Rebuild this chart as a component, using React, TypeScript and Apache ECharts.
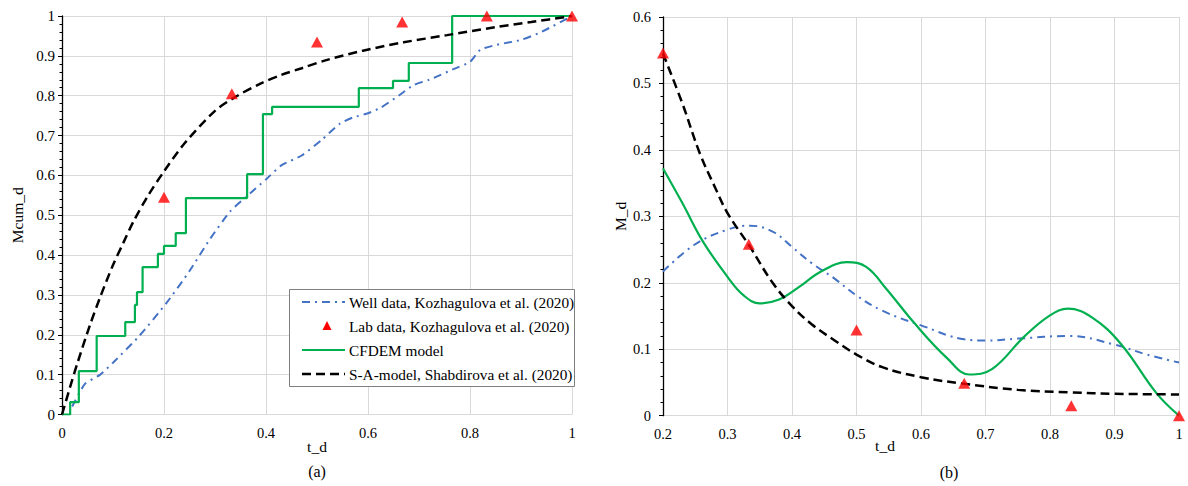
import React, { useEffect, useRef } from "react";
import * as echarts from "echarts";

// ---------- Data (a): cumulative ----------
const wellCum: number[][] = [
  [0.02, 0.02], [0.045, 0.077], [0.075, 0.1], [0.1, 0.13], [0.15, 0.195], [0.205, 0.28],
  [0.25, 0.36], [0.29, 0.44], [0.33, 0.51], [0.36, 0.545], [0.4, 0.59], [0.43, 0.625],
  [0.47, 0.65], [0.51, 0.69], [0.545, 0.73], [0.57, 0.745], [0.6, 0.756], [0.625, 0.77],
  [0.66, 0.8], [0.69, 0.827], [0.72, 0.84], [0.77, 0.868], [0.8, 0.885], [0.82, 0.915],
  [0.85, 0.927], [0.9, 0.94], [0.94, 0.96], [1, 1],
];
const labCum: number[][] = [
  [0.2, 0.545], [0.333, 0.805], [0.5, 0.935], [0.667, 0.985], [0.833, 1.0], [1, 1.0],
];
const cfdemCum: number[][] = [
  [0, 0], [0.016, 0.031], [0.033, 0.109], [0.068, 0.197], [0.124, 0.232], [0.143, 0.275],
  [0.147, 0.307], [0.158, 0.37], [0.188, 0.403], [0.2, 0.423], [0.223, 0.455], [0.243, 0.543],
  [0.363, 0.603], [0.394, 0.754], [0.412, 0.772], [0.582, 0.819], [0.649, 0.837], [0.68, 0.882],
  [0.765, 1.0], [1, 1],
];
const saCum: number[][] = [
  [0, 0], [0.015, 0.065], [0.03, 0.128], [0.055, 0.225], [0.075, 0.295], [0.1, 0.375],
  [0.12, 0.43], [0.14, 0.484], [0.17, 0.552], [0.2, 0.61], [0.24, 0.68], [0.3, 0.762],
  [0.34, 0.797], [0.39, 0.831], [0.43, 0.852], [0.47, 0.869], [0.52, 0.89], [0.59, 0.913],
  [0.67, 0.934], [0.755, 0.952], [0.85, 0.972], [0.92, 0.985], [1, 1],
];

// ---------- Data (b): M_d ----------
const wellMd: number[][] = [
  [0.2, 0.217], [0.25, 0.258], [0.3, 0.28], [0.335, 0.286], [0.37, 0.277], [0.4, 0.254],
  [0.43, 0.23], [0.465, 0.207], [0.5, 0.181], [0.54, 0.158], [0.6, 0.136], [0.667, 0.115],
  [0.7, 0.113], [0.75, 0.116], [0.83, 0.12], [0.9, 0.107], [0.95, 0.092], [1, 0.08],
];
const labMd: number[][] = [
  [0.2, 0.546], [0.333, 0.258], [0.5, 0.129], [0.667, 0.049], [0.833, 0.015], [1, 0.0],
];
const cfdemMd: number[][] = [
  [0.2, 0.372], [0.23, 0.32], [0.262, 0.262], [0.3, 0.209], [0.325, 0.181], [0.35, 0.169],
  [0.38, 0.175], [0.41, 0.193], [0.445, 0.217], [0.485, 0.231], [0.515, 0.224], [0.547, 0.19],
  [0.59, 0.139], [0.64, 0.087], [0.675, 0.062], [0.71, 0.07], [0.76, 0.119], [0.8, 0.151],
  [0.828, 0.161], [0.865, 0.148], [0.91, 0.108], [0.965, 0.034], [1, 0],
];
const saMd: number[][] = [
  [0.2, 0.545], [0.23, 0.47], [0.257, 0.395], [0.28, 0.345], [0.3, 0.305], [0.335, 0.254],
  [0.37, 0.2], [0.4, 0.165], [0.43, 0.138], [0.465, 0.114], [0.5, 0.092], [0.54, 0.073],
  [0.6, 0.058], [0.667, 0.048], [0.75, 0.039], [0.833, 0.035], [0.9, 0.033], [1, 0.032],
];

const names = [
  "Well data, Kozhagulova et al. (2020)",
  "Lab data, Kozhagulova et al. (2020)",
  "CFDEM model",
  "S-A-model, Shabdirova et al. (2020)",
];

const FONT = "Liberation Serif";
const BLUE = "#4472C4";
const GREEN = "#00B050";
const RED = "#FF0000";
const GRID = "#d9d9d9";
const WELL_DASH = [8, 5, 2, 5];
const SA_DASH = [9, 5];

export default function App() {
  const ref = useRef<HTMLDivElement>(null);
  useEffect(() => {
    if (!ref.current) return;
    const chart = echarts.init(ref.current, undefined, { renderer: "svg" });
    const lbl = { color: "#000", fontFamily: FONT, fontSize: 14.5 };
    const mkX = (gi: number, min: number, interval: number) => ({
      type: "value",
      gridIndex: gi,
      min,
      max: 1,
      interval,
      axisLine: { show: false },
      axisTick: { show: false },
      axisLabel: { ...lbl, margin: 11 },
      splitLine: { show: true, lineStyle: { color: GRID, width: 1 } },
    });
    const mkY = (gi: number, max: number, name: string, gap: number, lm: number, fs: number) => ({
      type: "value",
      gridIndex: gi,
      min: 0,
      max,
      interval: 0.1,
      name,
      nameLocation: "middle",
      nameGap: gap,
      nameRotate: 90,
      nameTextStyle: { color: "#000", fontFamily: FONT, fontSize: 15.5 },
      axisLine: { show: true, lineStyle: { color: "#000", width: 1.3 } },
      axisTick: { show: true, length: 4, lineStyle: { color: "#000" } },
      minorTick: { show: true, splitNumber: 5, length: 2.5, lineStyle: { color: "#000" } },
      axisLabel: { ...lbl, fontSize: fs, margin: lm },
      splitLine: { show: true, lineStyle: { color: GRID, width: 1 } },
    });
    const wellStyle = { color: BLUE, width: 2, type: WELL_DASH };
    const saStyle = { color: "#000", width: 2.5, type: SA_DASH };
    const greenStyle = { color: GREEN, width: 2.2 };
    const line = (name: string, gi: number, data: number[][], ls: any, extra: any = {}) => ({
      type: "line",
      name,
      xAxisIndex: gi,
      yAxisIndex: gi,
      data,
      symbol: "none",
      showSymbol: false,
      lineStyle: ls,
      itemStyle: { color: ls.color },
      z: 3,
      ...extra,
    });
    const scat = (gi: number, data: number[][]) => ({
      type: "scatter",
      name: names[1],
      xAxisIndex: gi,
      yAxisIndex: gi,
      data,
      symbol: "triangle",
      symbolSize: [12, 11],
      itemStyle: { color: RED },
      z: 6,
    });
    const txt = (text: string, x: number, y: number, size: number, align = "center") => ({
      type: "text",
      x,
      y,
      z: 20,
      style: {
        text,
        fill: "#000",
        fontFamily: FONT,
        fontSize: size,
        align,
        verticalAlign: "middle",
      },
    });
    // legend box (drawn with graphic)
    const L = { x: 289, y: 289, w: 285, h: 97, x1: 302, x2: 345, tx: 349 };
    const rows = [302, 326, 350, 374];
    const legend = [
      {
        type: "rect",
        z: 19,
        shape: { x: L.x + 0.5, y: L.y + 0.5, width: L.w, height: L.h },
        style: { fill: "#fff", stroke: "#7f7f7f", lineWidth: 1 },
      },
      {
        type: "line",
        z: 20,
        shape: { x1: L.x1, y1: rows[0], x2: L.x2, y2: rows[0] },
        style: { stroke: BLUE, lineWidth: 2, lineDash: WELL_DASH },
      },
      {
        type: "polygon",
        z: 20,
        shape: { points: [[327, rows[1] - 5], [322.5, rows[1] + 4], [331.5, rows[1] + 4]] },
        style: { fill: RED },
      },
      {
        type: "line",
        z: 20,
        shape: { x1: L.x1, y1: rows[2], x2: L.x2, y2: rows[2] },
        style: { stroke: GREEN, lineWidth: 2 },
      },
      {
        type: "line",
        z: 20,
        shape: { x1: L.x1, y1: rows[3], x2: L.x2, y2: rows[3] },
        style: { stroke: "#000", lineWidth: 2.5, lineDash: SA_DASH },
      },
      ...names.map((n, i) => txt(n, L.tx, rows[i], 15.3, "left")),
    ];
    chart.setOption({
      animation: false,
      backgroundColor: "#fff",
      grid: [
        { left: 62, top: 16, width: 510, height: 398.5 },
        { left: 663, top: 17, width: 516, height: 398.7 },
      ],
      xAxis: [mkX(0, 0, 0.2), mkX(1, 0.2, 0.1)],
      yAxis: [mkY(0, 1, "Mcum_d", 37, 7, 15), mkY(1, 0.6, "M_d", 35, 12, 14.5)],
      graphic: [
        txt("t_d", 317, 446, 15.5),
        txt("t_d", 885, 445, 15.5),
        txt("(a)", 317, 471, 16),
        txt("(b)", 949, 472, 16),
        ...legend,
      ],
      series: [
        line(names[0], 0, wellCum, wellStyle, { smooth: 0.2 }),
        scat(0, labCum),
        line(names[2], 0, cfdemCum, greenStyle, { step: "end" }),
        line(names[3], 0, saCum, saStyle, { smooth: 0.3 }),
        line(names[0], 1, wellMd, wellStyle, { smooth: 0.4 }),
        scat(1, labMd),
        line(names[2], 1, cfdemMd, greenStyle, { smooth: 0.4 }),
        line(names[3], 1, saMd, saStyle, { smooth: 0.4 }),
      ],
    } as any);
    return () => chart.dispose();
  }, []);
  return (
    <div
      ref={ref}
      style={{ position: "fixed", left: 0, top: 0, width: 1188, height: 486, background: "#fff" }}
    />
  );
}
